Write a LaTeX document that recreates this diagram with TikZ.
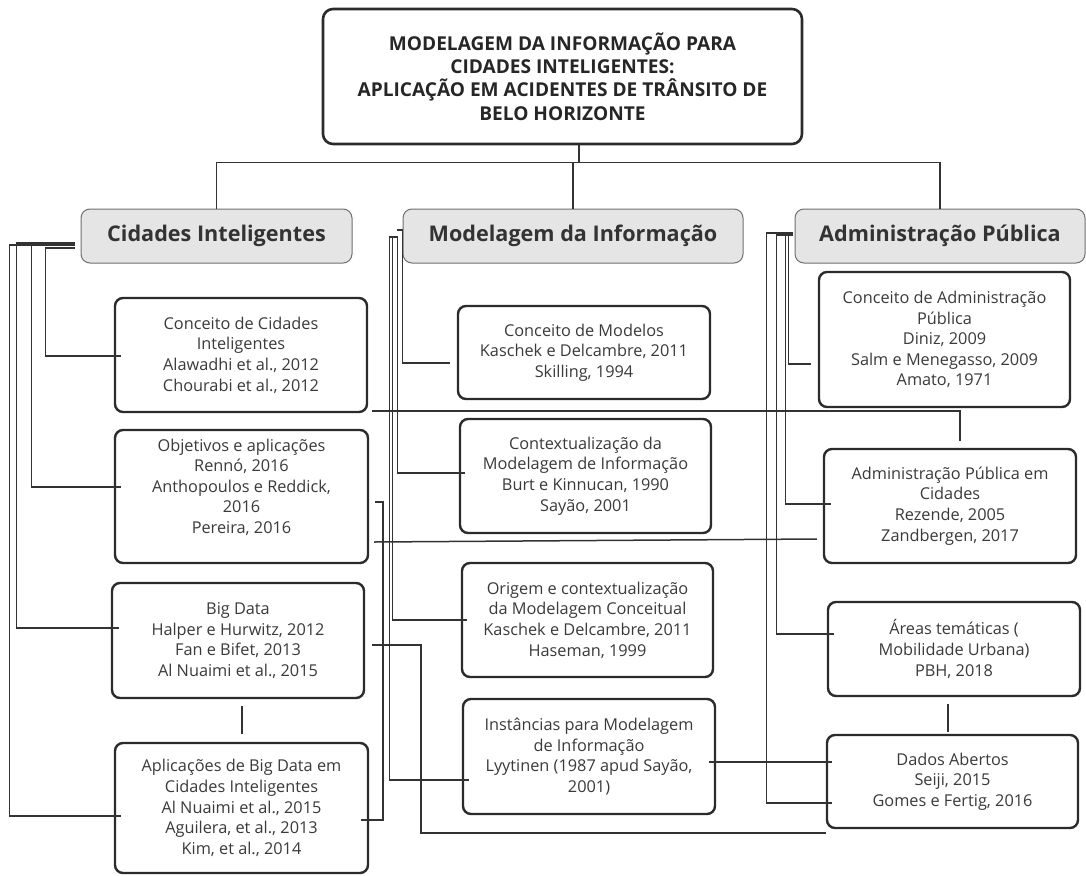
\documentclass[tikz,border=0pt]{standalone}
\usepackage{fontspec}
\setmainfont{Open Sans}
\usetikzlibrary{calc}
\definecolor{txt}{HTML}{3A3A3A}
\definecolor{edge}{HTML}{2B2B2B}
\definecolor{catfill}{HTML}{E5E5E5}
\definecolor{catedge}{HTML}{707070}
\definecolor{wire}{HTML}{333333}
\begin{document}
\begin{tikzpicture}[x=1pt,y=-1pt,
  titlebox/.style={draw=edge,line width=2.6pt,rounded corners=10pt,fill=white,inner sep=0pt,
    align=center,text=black!85,font=\fontsize{19.1}{23.3}\selectfont\bfseries},
  catbox/.style={draw=catedge,line width=1pt,rounded corners=9pt,fill=catfill,inner sep=0pt,
    minimum height=54pt,text=black!80,font=\fontsize{21.6}{24}\selectfont\bfseries},
  subbox/.style={draw=edge,line width=2.4pt,rounded corners=8pt,fill=white,inner sep=0pt,
    align=center,text=txt,font=\fontsize{16.3}{20.6}\selectfont},
  conn/.style={draw=wire,line width=1.5pt}]
\useasboundingbox (0,0) rectangle (1086,875);
\fill[white] (0,0) rectangle (1086,875);

% title
\node[titlebox,minimum width=479pt,minimum height=135pt] (title) at (562.5,76.5)
 {MODELAGEM DA INFORMAÇÃO PARA\\CIDADES INTELIGENTES:\\APLICAÇÃO EM ACIDENTES DE TRÂNSITO DE\\BELO HORIZONTE};

% categories
\node[catbox,minimum width=271pt] (catC) at (216.5,236) {Cidades Inteligentes};
\node[catbox,minimum width=340pt] (catM) at (573,236) {Modelagem da Informação};
\node[catbox,minimum width=290pt] (catA) at (940,236) {Administração Pública};

% left column
\node[subbox,minimum width=252pt,minimum height=114pt] (B1) at (241,355)
 {Conceito de Cidades\\Inteligentes\\Alawadhi et al., 2012\\Chourabi et al., 2012};
\node[subbox,minimum width=253pt,minimum height=133pt] (B2) at (241.5,496.5)
 {Objetivos e aplicações\\Rennó, 2016\\Anthopoulos e Reddick,\\2016\\Pereira, 2016\\\phantom{X}};
\node[subbox,minimum width=252pt,minimum height=115pt] (B3) at (238,640.5)
 {Big Data\\Halper e Hurwitz, 2012\\Fan e Bifet, 2013\\Al Nuaimi et al., 2015};
\node[subbox,minimum width=253pt,minimum height=130pt] (B4) at (241.5,808)
 {Aplicações de Big Data em\\Cidades Inteligentes\\Al Nuaimi et al., 2015\\Aguilera, et al., 2013\\Kim, et al., 2014};

% middle column
\node[subbox,minimum width=252pt,minimum height=93pt] (M1) at (584,352.5)
 {Conceito de Modelos\\Kaschek e Delcambre, 2011\\Skilling, 1994};
\node[subbox,minimum width=251pt,minimum height=114pt] (M2) at (585.5,476)
 {Contextualização da\\Modelagem de Informação\\Burt e Kinnucan, 1990\\Sayão, 2001};
\node[subbox,minimum width=251pt,minimum height=114pt] (M3) at (587.5,620)
 {Origem e contextualização\\da Modelagem Conceitual\\Kaschek e Delcambre, 2011\\Haseman, 1999};
\node[subbox,minimum width=252pt,minimum height=115pt] (M4) at (589,756.5)
 {Instâncias para Modelagem\\de Informação\\Lyytinen (1987 apud Sayão,\\2001)};

% right column
\node[subbox,minimum width=251pt,minimum height=135pt] (R1) at (944.5,339.5)
 {Conceito de Administração\\Pública\\Diniz, 2009\\Salm e Menegasso, 2009\\Amato, 1971};
\node[subbox,minimum width=252pt,minimum height=114pt] (R2) at (950,506)
 {Administração Pública em\\Cidades\\Rezende, 2005\\Zandbergen, 2017};
\node[subbox,minimum width=252pt,minimum height=94pt] (R3) at (954,649)
 {Áreas temáticas (\\Mobilidade Urbana)\\PBH, 2018};
\node[subbox,minimum width=251pt,minimum height=93pt] (R4) at (952.5,781.5)
 {Dados Abertos\\Seiji, 2015\\Gomes e Fertig, 2016};

% tree from title
\draw[conn] ($(title.south)+(16.5,0)$) -- ++(0,17) coordinate (hub);
\draw[conn] (catC.north) |- (catA.north |- hub) -- (catA.north);
\draw[conn] (catM.north) -- (catM.north |- hub);

% left group
\draw[conn] ($(catC.west)+(-6,12)$) -- ++(-29,0) |- ($(B1.west)+(7,1)$);
\draw[conn] ($(catC.west)+(-6,7)$) -- ++(-43,0) |- ($(B2.west)+(7,-9.5)$);
\draw[conn] ($(catC.west)+(-6,7)$) -- ++(-58,0) |- ($(B3.west)+(8,-12.5)$);
\draw[conn] ($(catC.west)+(-6,9)$) -- ++(-65,0) |- ($(B4.west)+(7,8)$);
\draw[conn] ($(B3.south)+(4,7)$) -- ($(B4.north)+(0.5,-8)$);

% middle group
\draw[conn] ($(catM.west)+(-6,-6)$) -- ++(6,0) |- ($(M1.west)+(-7,10.5)$);
\draw[conn] ($(catM.west)+(-6,1)$) -- ++(1,0) |- ($(M2.west)+(6,-3)$);
\draw[conn] ($(catM.west)+(-6,1)$) -- ++(-4,0) |- ($(M3.west)+(6,0)$);
\draw[conn] ($(catM.west)+(-6,1)$) -- ++(-7,0) |- ($(M4.west)+(7,23.5)$);

% right group
\draw[conn] ($(catA.west)+(-2,-3)$) -- ++(-4,0) |- ($(R1.west)+(-7,24.5)$);
\draw[conn] ($(catA.west)+(-2,-1)$) -- ++(-7,0) |- ($(R2.west)+(8,-2)$);
\draw[conn] ($(catA.west)+(-2,-1)$) -- ++(-16,0) |- ($(R3.west)+(7,-15)$);
\draw[conn] ($(catA.west)+(-2,-3)$) -- ++(-26,0) |- ($(R4.west)+(6,21.5)$);
\draw[conn] ($(R3.south)+(-6,7)$) -- ($(R4.north)+(-4.5,-2)$);

% cross links
\draw[conn] ($(B1.east)+(4,56)$) -| ($(R2.north)+(10,-7)$);
\draw[conn] ($(B2.east)+(5,45.5)$) -- ($(R2.west)+(-6,33)$);
\draw[conn] ($(B2.east)+(6,5.5)$) -- ++(8,0) |- ($(B4.east)+(-8,12)$);
\draw[conn] ($(B3.east)+(7,4.5)$) -- ++(49,0) |- ($(R4.south west)+(0,4)$);
\draw[conn] ($(M4.east)+(-7,5.5)$) -- ($(R4.west)+(6,-19.5)$);
\end{tikzpicture}
\end{document}
